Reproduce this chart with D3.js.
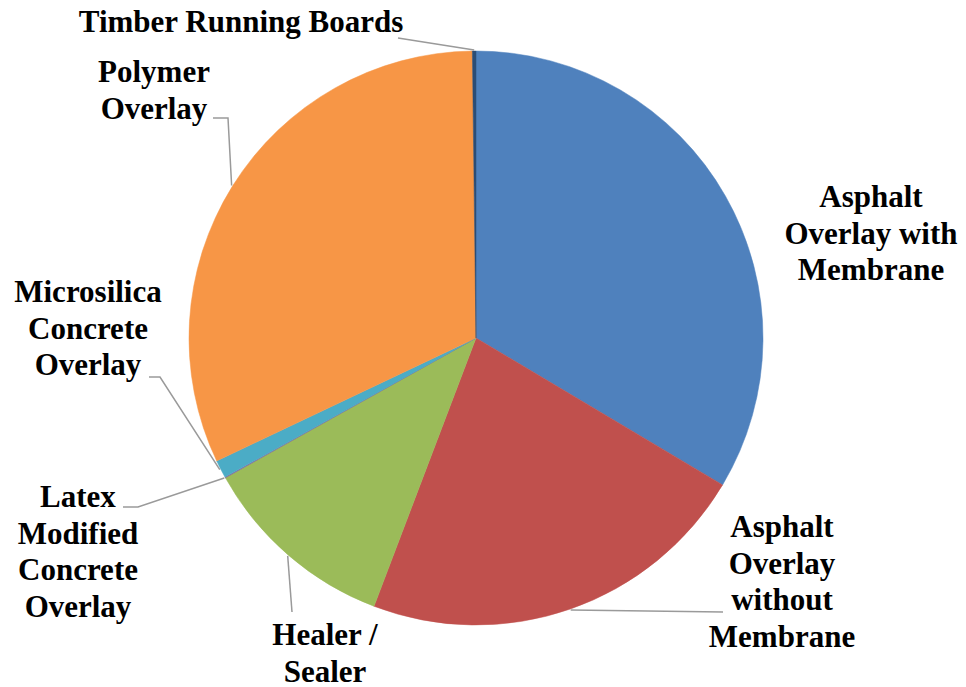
<!DOCTYPE html>
<html><head><meta charset="utf-8">
<script src="https://cdn.jsdelivr.net/npm/d3@7"></script>
<style>body{margin:0;background:#fff}svg{display:block}</style>
</head><body>
<script>
const categories = ["Asphalt Overlay with Membrane","Asphalt Overlay without Membrane","Healer / Sealer","Latex Modified Concrete Overlay","Microsilica Concrete Overlay","Polymer Overlay","Timber Running Boards"];
const values = [33.5, 22.2, 11.1, 0.05, 1.0, 31.8, 0.2];
const colors = ["#4F81BD","#C0504D","#9BBB59","#8064A2","#4BACC6","#F79646","#2C4D75"];
const labelLines = [["Asphalt","Overlay with","Membrane"],["Asphalt","Overlay","without","Membrane"],["Healer /","Sealer"],["Latex","Modified","Concrete","Overlay"],["Microsilica","Concrete","Overlay"],["Polymer","Overlay"],["Timber Running Boards"]];

const W=966,H=687, cx=476, cy=338, R=287;
// layout: label centre x, first baseline, leader elbow points (null = no leader)
const labelLayout = [
  {x:871, y:207, leader:null},
  {x:782, y:537, leader:[[723,612]]},
  {x:325, y:645, leader:[[292,612]]},
  {x:78,  y:507, leader:[[138,507],[123,507]]},
  {x:88,  y:302, leader:[[160,377],[149,377]]},
  {x:154, y:82,  leader:[[228,118],[213,118]]},
  {x:241, y:32,  leader:[[398,38]]}
];
const lineH = 36.5;

const svg = d3.select("body").append("svg").attr("width",W).attr("height",H);
const pie = d3.pie().sort(null).value(d=>d);
const arcs = pie(values);
const arc = d3.arc().innerRadius(0).outerRadius(R);
const g = svg.append("g").attr("transform",`translate(${cx},${cy})`);
g.selectAll("path").data(arcs).join("path")
  .attr("d",arc).attr("fill",(d,i)=>colors[i])
  .attr("stroke",(d,i)=>colors[i]).attr("stroke-width",0.5);

// leaders
arcs.forEach((a,i)=>{
  const L = labelLayout[i];
  if(!L.leader) return;
  const m = (a.startAngle+a.endAngle)/2;
  const p0 = [cx+Math.sin(m)*(R+1), cy-Math.cos(m)*(R+1)];
  const pts = [p0].concat(L.leader);
  svg.append("path").attr("d",d3.line()(pts))
    .attr("fill","none").attr("stroke","#9a9a9a").attr("stroke-width",1.5);
});

// labels
labelLines.forEach((lines,i)=>{
  const L = labelLayout[i];
  const t = svg.append("text").attr("text-anchor","middle")
    .attr("font-family","'Liberation Serif','Times New Roman',serif")
    .attr("font-weight","bold").attr("font-size",31).attr("fill","#000");
  lines.forEach((s,j)=>{
    t.append("tspan").attr("x",L.x).attr("y",L.y+j*lineH).text(s);
  });
});
</script>
</body></html>
